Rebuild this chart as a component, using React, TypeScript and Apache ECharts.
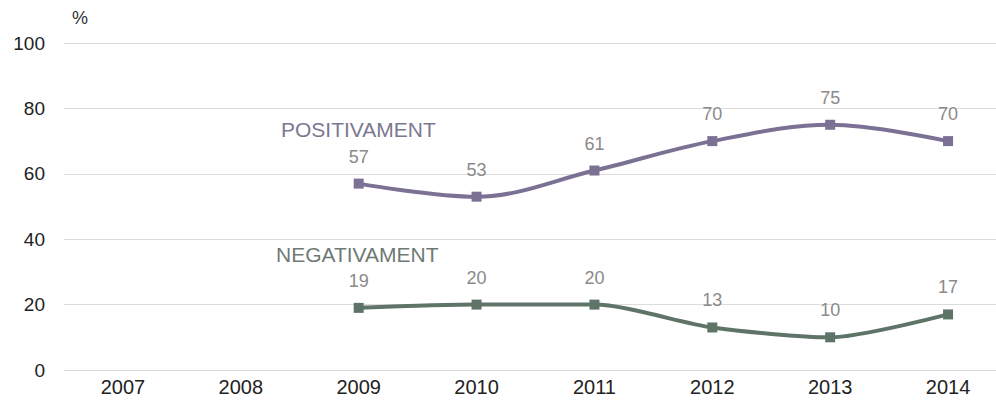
import React, { useEffect, useRef } from "react";
import * as echarts from "echarts";

const years = ["2007", "2008", "2009", "2010", "2011", "2012", "2013", "2014"];
const positivament = [null, null, 57, 53, 61, 70, 75, 70];
const negativament = [null, null, 19, 20, 20, 13, 10, 17];
const yTicks = { min: 0, max: 100, interval: 20 };

export default function App() {
  const ref = useRef<HTMLDivElement>(null);
  useEffect(() => {
    document.body.style.margin = "0";
    const chart = echarts.init(ref.current!, null, { renderer: "svg" });
    const font = "Liberation Sans, Arial, sans-serif";
    const labelStyle = {
      show: true,
      position: "top" as const,
      distance: 13,
      color: "#8a8a8a",
      fontSize: 18,
      fontFamily: font,
    };
    chart.setOption({
      animation: false,
      grid: { left: 64, right: 3, top: 43, bottom: 30, containLabel: false },
      xAxis: {
        type: "category",
        data: years,
        boundaryGap: true,
        axisLine: { show: true, lineStyle: { color: "#d9d9d9", width: 1 } },
        axisTick: { show: false },
        axisLabel: { color: "#222", fontSize: 20, fontFamily: font, margin: 7 },
      },
      yAxis: {
        type: "value",
        min: yTicks.min,
        max: yTicks.max,
        interval: yTicks.interval,
        name: "%",
        nameLocation: "end",
        nameGap: 16,
        nameTextStyle: { color: "#333", fontSize: 18, fontFamily: font, align: "left", padding: [0, 0, 0, 8] },
        axisLine: { show: false },
        axisTick: { show: false },
        axisLabel: { color: "#222", fontSize: 19, fontFamily: font, margin: 19 },
        splitLine: { lineStyle: { color: "#dcdcdc", width: 1 } },
      },
      series: [
        {
          name: "POSITIVAMENT",
          type: "line",
          data: positivament,
          smooth: 0.35,
          symbol: "rect",
          symbolSize: 10,
          lineStyle: { color: "#7a7194", width: 4 },
          itemStyle: { color: "#7a7194" },
          label: labelStyle,
        },
        {
          name: "NEGATIVAMENT",
          type: "line",
          data: negativament,
          smooth: 0.25,
          symbol: "rect",
          symbolSize: 10,
          lineStyle: { color: "#5f7468", width: 4 },
          itemStyle: { color: "#5f7468" },
          label: labelStyle,
        },
      ],
      graphic: [
        {
          type: "text",
          left: 281,
          top: 119,
          style: { text: "POSITIVAMENT", fill: "#7d7890", fontSize: 21, fontFamily: font },
        },
        {
          type: "text",
          left: 276,
          top: 244,
          style: { text: "NEGATIVAMENT", fill: "#6f7a74", fontSize: 21, fontFamily: font },
        },
      ],
    });
    return () => chart.dispose();
  }, []);
  return (
    <div style={{ width: 996, height: 400, overflow: "hidden" }}>
      <div ref={ref} style={{ width: 1010, height: 400 }} />
    </div>
  );
}
